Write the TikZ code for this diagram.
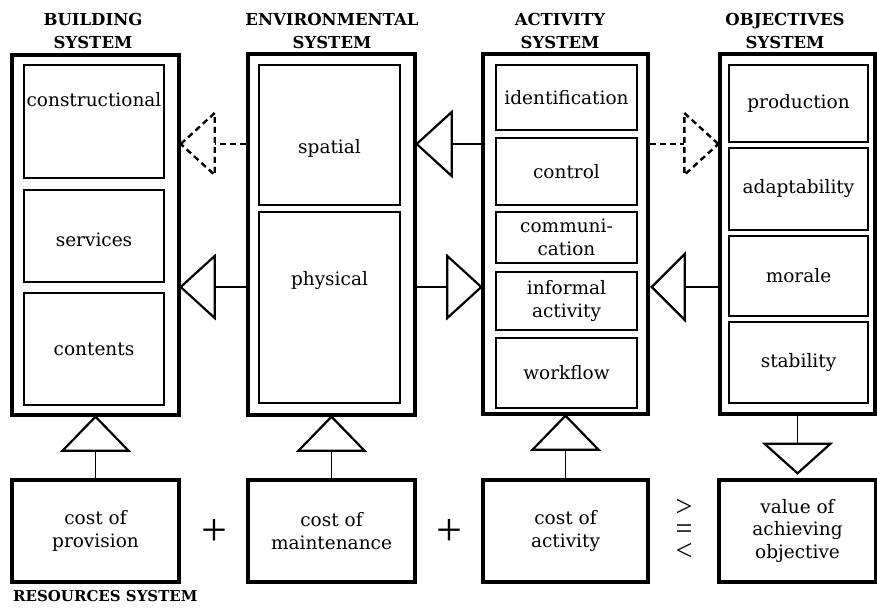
\documentclass[tikz,border=0pt]{standalone}
\usepackage{fontspec}
\setmainfont{DejaVu Serif}
\newfontfamily\symfnt{Liberation Serif}
\usetikzlibrary{calc}
\begin{document}
\begin{tikzpicture}[x=1pt,y=-1pt,
 outerbox/.style={draw,line width=3.4pt,inner sep=0pt},
 subbox/.style={draw,line width=2.3pt,inner sep=0pt},
 lbl/.style={align=center,font=\fontsize{18.5}{22.5}\selectfont,inner sep=0pt},
 title/.style={align=center,font=\bfseries\fontsize{16.5}{23}\selectfont,inner sep=0pt},
 tri/.style={draw,line width=2.2pt,line join=miter},
 stem/.style={draw,line width=1.8pt},
 dtri/.style={draw,line width=2.4pt,dash pattern=on 6pt off 4pt},
 dstem/.style={draw,line width=2.4pt,dash pattern=on 6pt off 4pt},
]
\useasboundingbox (0,0) rectangle (877,613);
% titles
\node[title] (tb) at (93,31) {BUILDING\\SYSTEM};
\node[title] (te) at (332,31) {ENVIRONMENTAL\\SYSTEM};
\node[title] (ta) at (560,31) {ACTIVITY\\SYSTEM};
\node[title] (to) at (785,31) {OBJECTIVES\\SYSTEM};
\node[title,anchor=west,font=\bfseries\fontsize{15}{20}\selectfont] (tr) at (13,596) {RESOURCES SYSTEM};
% outer boxes
\node[outerbox,minimum width=167pt,minimum height=360pt] (bld) at (95.5,235) {};
\node[outerbox,minimum width=167pt,minimum height=361pt] (env) at (331.5,234.5) {};
\node[outerbox,minimum width=165pt,minimum height=360pt] (act) at (565.5,234) {};
\node[outerbox,minimum width=155pt,minimum height=360pt] (obj) at (797.5,234) {};
% building sub boxes
\node[subbox,minimum width=140pt,minimum height=113pt] (bcon) at (94,121.5) {};
\node[lbl] (tcon) at (94,100) {constructional};
\node[subbox,minimum width=140pt,minimum height=92pt] (bser) at (94,236) {};
\node[lbl] (tser) at (94,240) {services};
\node[subbox,minimum width=140pt,minimum height=112pt] (bcnt) at (94,349) {};
\node[lbl] (tcnt) at (94,349) {contents};
% environmental sub boxes
\node[subbox,minimum width=141pt,minimum height=140pt] (espa) at (329.5,135) {};
\node[lbl] (tspa) at (329.5,148) {spatial};
\node[subbox,minimum width=141pt,minimum height=191pt] (ephy) at (329.5,307.5) {};
\node[lbl] (tphy) at (329.5,281) {physical};
% activity sub boxes
\node[subbox,minimum width=141pt,minimum height=65pt,lbl] (aid) at (566.5,97.5) {identification};
\node[subbox,minimum width=141pt,minimum height=67pt,lbl] (acon) at (566.5,171.5) {control};
\node[subbox,minimum width=141pt,minimum height=51pt,lbl] (acom) at (566.5,237.5) {communi-\\cation};
\node[subbox,minimum width=141pt,minimum height=58pt,lbl] (ainf) at (566.5,301) {informal\\activity};
\node[subbox,minimum width=141pt,minimum height=70pt,lbl] (awf) at (566.5,373) {workflow};
% objectives sub boxes
\node[subbox,minimum width=139pt,minimum height=77pt,lbl] (opro) at (798.5,103.5) {production};
\node[subbox,minimum width=139pt,minimum height=82pt,lbl] (oada) at (798.5,189) {adaptability};
\node[subbox,minimum width=139pt,minimum height=80pt,lbl] (omor) at (798.5,276) {morale};
\node[subbox,minimum width=139pt,minimum height=81pt,lbl] (osta) at (798.5,362.5) {stability};
% bottom boxes
\node[outerbox,minimum width=167pt,minimum height=102pt,lbl] (cp) at (95.5,531) {cost of\\provision};
\node[outerbox,minimum width=167pt,minimum height=102pt,lbl] (cm) at (331.5,531) {cost of\\maintenance};
\node[outerbox,minimum width=165pt,minimum height=102pt,lbl] (ca) at (565.5,531) {cost of\\activity};
\node[outerbox,minimum width=157pt,minimum height=102pt,lbl] (vo) at (797.5,531) {value of\\achieving\\objective};
% operators
\node[inner sep=0pt,font=\symfnt\fontsize{46}{46}\selectfont] (p1) at (214,532) {+};
\node[inner sep=0pt,font=\symfnt\fontsize{46}{46}\selectfont] (p2) at (449,532) {+};
\node[inner sep=0pt,align=center,font=\symfnt\fontsize{30}{22}\selectfont] (cmp) at (684,530) {>\\=\\<};
% vertical arrows up
\foreach \b/\c in {bld/cp,env/cm,act/ca}{
  \draw[tri] (\b.south) -- ++(-33,34) -- ++(66,0) -- cycle;
  \draw[stem] (\c.north) -- ($(\b.south)+(0,34)$);
}
% objectives down arrow
\draw[stem] (obj.south) -- ++(0,28) coordinate (ob);
\draw[tri] ($(vo.north)+(0,-5)$) -- ($(ob)+(-33,0)$) -- ($(ob)+(33,0)$) -- cycle;
% horizontal arrows, upper row
\coordinate (h1) at (0,144);
\coordinate (h2) at (0,287);
\draw[dtri] (bld.east |- h1) -- ++(34,-31) -- ++(0,62) -- cycle;
\draw[dstem] (env.west |- h1) -- ($(bld.east |- h1)+(34,0)$);
\draw[tri] (env.east |- h1) -- ++(35,-32) -- ++(0,64) -- cycle;
\draw[stem] (act.west |- h1) -- ($(env.east |- h1)+(35,0)$);
\draw[dtri] (obj.west |- h1) -- ++(-34,-31) -- ++(0,62) -- cycle;
\draw[dstem] (act.east |- h1) -- ($(obj.west |- h1)+(-34,0)$);
% lower row
\draw[tri] (bld.east |- h2) -- ++(34,-31) -- ++(0,62) -- cycle;
\draw[stem] (env.west |- h2) -- ($(bld.east |- h2)+(34,0)$);
\draw[tri] (act.west |- h2) -- ++(-34,-31) -- ++(0,62) -- cycle;
\draw[stem] (env.east |- h2) -- ($(act.west |- h2)+(-34,0)$);
\draw[tri] ($(act.east |- h2)+(2,0)$) -- ++(33,-33) -- ++(0,66) -- cycle;
\draw[stem] (obj.west |- h2) -- ($(act.east |- h2)+(35,0)$);
\end{tikzpicture}
\end{document}
